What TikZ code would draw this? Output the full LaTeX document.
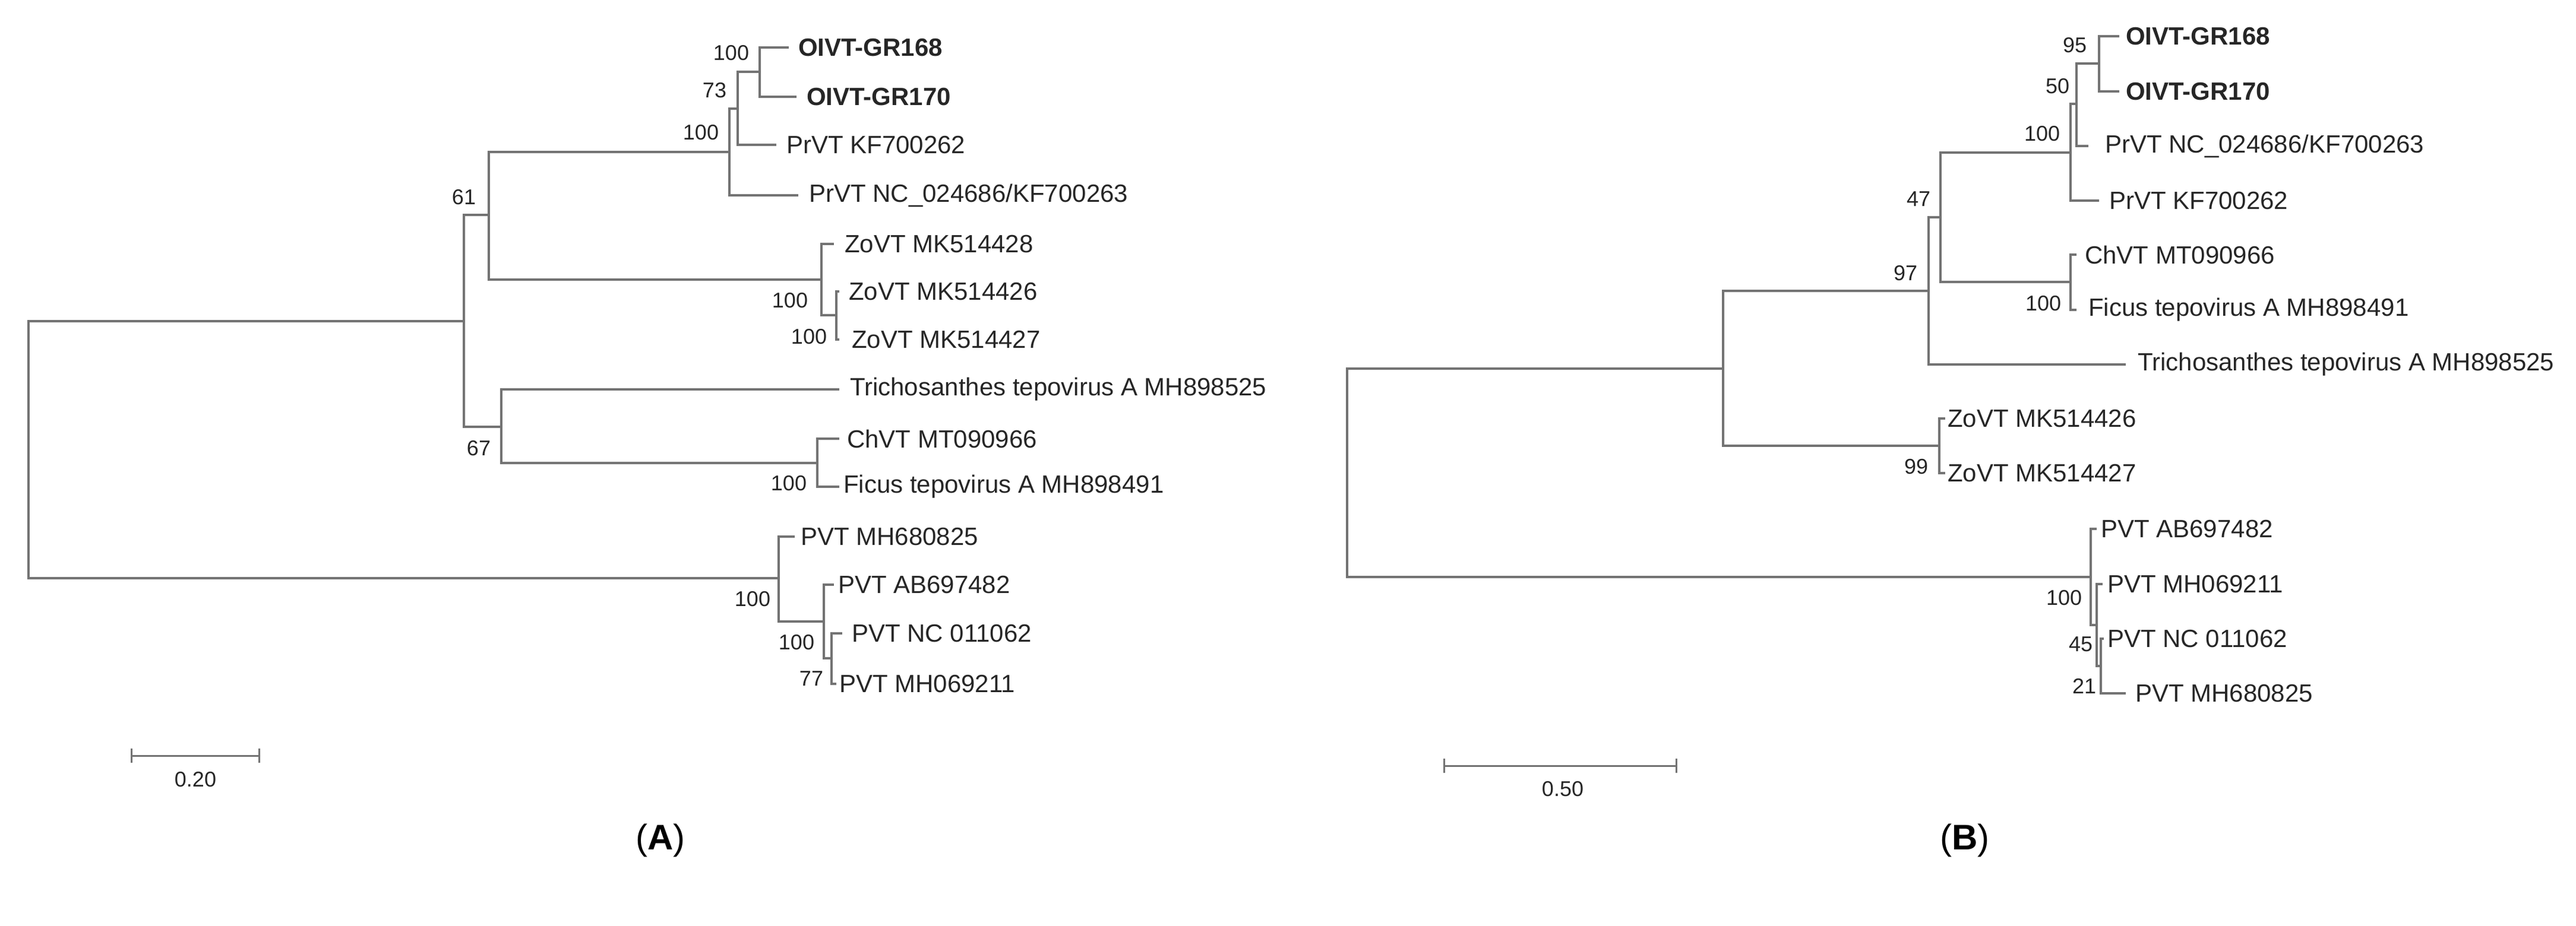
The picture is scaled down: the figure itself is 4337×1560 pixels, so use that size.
\documentclass[tikz,border=0pt]{standalone}
\usepackage{fontspec}
\setmainfont{Liberation Sans}
\begin{document}
\begin{tikzpicture}[x=1pt,y=-1pt,
  br/.style={draw=black!55,line width=3.5pt},
  lf/.style={anchor=west,inner sep=0pt,font=\fontsize{42}{46}\selectfont,text=black!85},
  lfb/.style={lf,font=\fontsize{42}{46}\selectfont\bfseries},
  bs/.style={inner sep=0pt,font=\fontsize{36}{40}\selectfont,text=black!85},
  panelcap/.style={inner sep=0pt,font=\fontsize{60}{66}\selectfont\rmfamily}]
\useasboundingbox (0,0) rectangle (4337,1560);
% ---------- Tree A ----------
\coordinate (rA) at (48,756);
\coordinate (a1) at (781,541);
\coordinate (a61) at (823,362);
\coordinate (aPr) at (1228,256);
\coordinate (a73) at (1242,183);
\coordinate (aGR) at (1279,121);
\coordinate (tA1) at (1328,80);
\coordinate (tA2) at (1341,163);
\coordinate (tA3) at (1307,244);
\coordinate (tA4) at (1344,329);
\coordinate (aZo) at (1383,471);
\coordinate (tA5) at (1404,411);
\coordinate (aZo2) at (1408,531);
\coordinate (tA6) at (1413,491);
\coordinate (tA7) at (1413,572);
\coordinate (a67) at (844,719);
\coordinate (tA8) at (1413,656);
\coordinate (aCh) at (1376,780);
\coordinate (tA9) at (1413,739);
\coordinate (tA10) at (1413,820);
\coordinate (aPV) at (1311,974);
\coordinate (tA11) at (1338,904);
\coordinate (aPV2) at (1387,1047);
\coordinate (tA12) at (1404,985);
\coordinate (a77) at (1400,1109);
\coordinate (tA13) at (1418,1067);
\coordinate (tA14) at (1408,1152);
\foreach \p/\c in {rA/a1,rA/aPV,a1/a61,a1/a67,a61/aPr,a61/aZo,aPr/a73,aPr/tA4,a73/aGR,a73/tA3,aGR/tA1,aGR/tA2,
  aZo/tA5,aZo/aZo2,aZo2/tA6,aZo2/tA7,a67/tA8,a67/aCh,aCh/tA9,aCh/tA10,aPV/tA11,aPV/aPV2,aPV2/tA12,aPV2/a77,a77/tA13,a77/tA14}
  \draw[br] (\p) |- (\c);
\node[lfb] (lA1) at (1344,80) {OIVT-GR168};
\node[lfb] (lA2) at (1358,163) {OIVT-GR170};
\node[lf] (lA3) at (1324,244) {PrVT KF700262};
\node[lf] (lA4) at (1362,329) {PrVT NC\_024686/KF700263};
\node[lf] (lA5) at (1422,411) {ZoVT MK514428};
\node[lf] (lA6) at (1429,491) {ZoVT MK514426};
\node[lf] (lA7) at (1434,572) {ZoVT MK514427};
\node[lf] (lA8) at (1431,656) {Trichosanthes tepovirus A MH898525};
\node[lf] (lA9) at (1426,739) {ChVT MT090966};
\node[lf] (lA10) at (1420,820) {Ficus tepovirus A MH898491};
\node[lf] (lA11) at (1348,904) {PVT MH680825};
\node[lf] (lA12) at (1411,985) {PVT AB697482};
\node[lf] (lA13) at (1434,1067) {PVT NC 011062};
\node[lf] (lA14) at (1413,1152) {PVT MH069211};
\node[bs] (sA1) at (1231,89) {100};
\node[bs] (sA2) at (1203,152) {73};
\node[bs] (sA3) at (1180,223) {100};
\node[bs] (sA4) at (781,332) {61};
\node[bs] (sA5) at (1330,506) {100};
\node[bs] (sA6) at (1362,567) {100};
\node[bs] (sA7) at (806,755) {67};
\node[bs] (sA8) at (1328,814) {100};
\node[bs] (sA9) at (1267,1009) {100};
\node[bs] (sA10) at (1341,1082) {100};
\node[bs] (sA11) at (1366,1143) {77};
\coordinate (sbA1) at (221,1273);
\coordinate (sbA2) at (436,1273);
\draw[br,line width=3pt] (sbA1) -- (sbA2);
\draw[br,line width=3pt] ([yshift=-12pt]sbA1) -- ([yshift=12pt]sbA1);
\draw[br,line width=3pt] ([yshift=-12pt]sbA2) -- ([yshift=12pt]sbA2);
\node[bs] (scA) at (329,1313) {0.20};
\node[panelcap] (capA) at (1112,1416) {(\textbf{A})};
% ---------- Tree B ----------
\coordinate (rB) at (2268,797);
\coordinate (b97) at (2901,621);
\coordinate (bX) at (3247,490);
\coordinate (b47) at (3267,366);
\coordinate (bPr) at (3486,257);
\coordinate (b50) at (3496,175);
\coordinate (bGR) at (3534,107);
\coordinate (tB1) at (3568,61);
\coordinate (tB2) at (3568,154);
\coordinate (tB3) at (3516,246);
\coordinate (tB4) at (3534,338);
\coordinate (bCh) at (3486,475);
\coordinate (tB5) at (3496,429);
\coordinate (tB6) at (3496,522);
\coordinate (tB7) at (3579,614);
\coordinate (bZo) at (3265,751);
\coordinate (tB8) at (3275,705);
\coordinate (tB9) at (3275,797);
\coordinate (bPV) at (3520,972);
\coordinate (tB10) at (3530,891);
\coordinate (b45) at (3530,1053);
\coordinate (tB11) at (3540,984);
\coordinate (b21) at (3537,1122);
\coordinate (tB12) at (3542,1076);
\coordinate (tB13) at (3579,1168);
\foreach \p/\c in {rB/b97,rB/bPV,b97/bX,b97/bZo,bX/b47,bX/tB7,b47/bPr,b47/bCh,bPr/b50,bPr/tB4,b50/bGR,b50/tB3,
  bGR/tB1,bGR/tB2,bCh/tB5,bCh/tB6,bZo/tB8,bZo/tB9,bPV/tB10,bPV/b45,b45/tB11,b45/b21,b21/tB12,b21/tB13}
  \draw[br] (\p) |- (\c);
\node[lfb] (lB1) at (3579,61) {OIVT-GR168};
\node[lfb] (lB2) at (3579,154) {OIVT-GR170};
\node[lf] (lB3) at (3544,246) {PrVT NC\_024686/KF700263};
\node[lf] (lB4) at (3551,338) {PrVT KF700262};
\node[lf] (lB5) at (3510,429) {ChVT MT090966};
\node[lf] (lB6) at (3516,522) {Ficus tepovirus A MH898491};
\node[lf] (lB7) at (3599,614) {Trichosanthes tepovirus A MH898525};
\node[lf] (lB8) at (3279,705) {ZoVT MK514426};
\node[lf] (lB9) at (3279,797) {ZoVT MK514427};
\node[lf] (lB10) at (3537,891) {PVT AB697482};
\node[lf] (lB11) at (3548,984) {PVT MH069211};
\node[lf] (lB12) at (3548,1076) {PVT NC 011062};
\node[lf] (lB13) at (3595,1168) {PVT MH680825};
\node[bs] (sB1) at (3493,76) {95};
\node[bs] (sB2) at (3464,145) {50};
\node[bs] (sB3) at (3438,225) {100};
\node[bs] (sB4) at (3230,335) {47};
\node[bs] (sB5) at (3208,460) {97};
\node[bs] (sB6) at (3440,511) {100};
\node[bs] (sB7) at (3226,786) {99};
\node[bs] (sB8) at (3475,1007) {100};
\node[bs] (sB9) at (3503,1085) {45};
\node[bs] (sB10) at (3509,1156) {21};
\coordinate (sbB1) at (2431,1290);
\coordinate (sbB2) at (2822,1290);
\draw[br,line width=3pt] (sbB1) -- (sbB2);
\draw[br,line width=3pt] ([yshift=-12pt]sbB1) -- ([yshift=12pt]sbB1);
\draw[br,line width=3pt] ([yshift=-12pt]sbB2) -- ([yshift=12pt]sbB2);
\node[bs] (scB) at (2631,1329) {0.50};
\node[panelcap] (capB) at (3308,1416) {(\textbf{B})};
\end{tikzpicture}
\end{document}
